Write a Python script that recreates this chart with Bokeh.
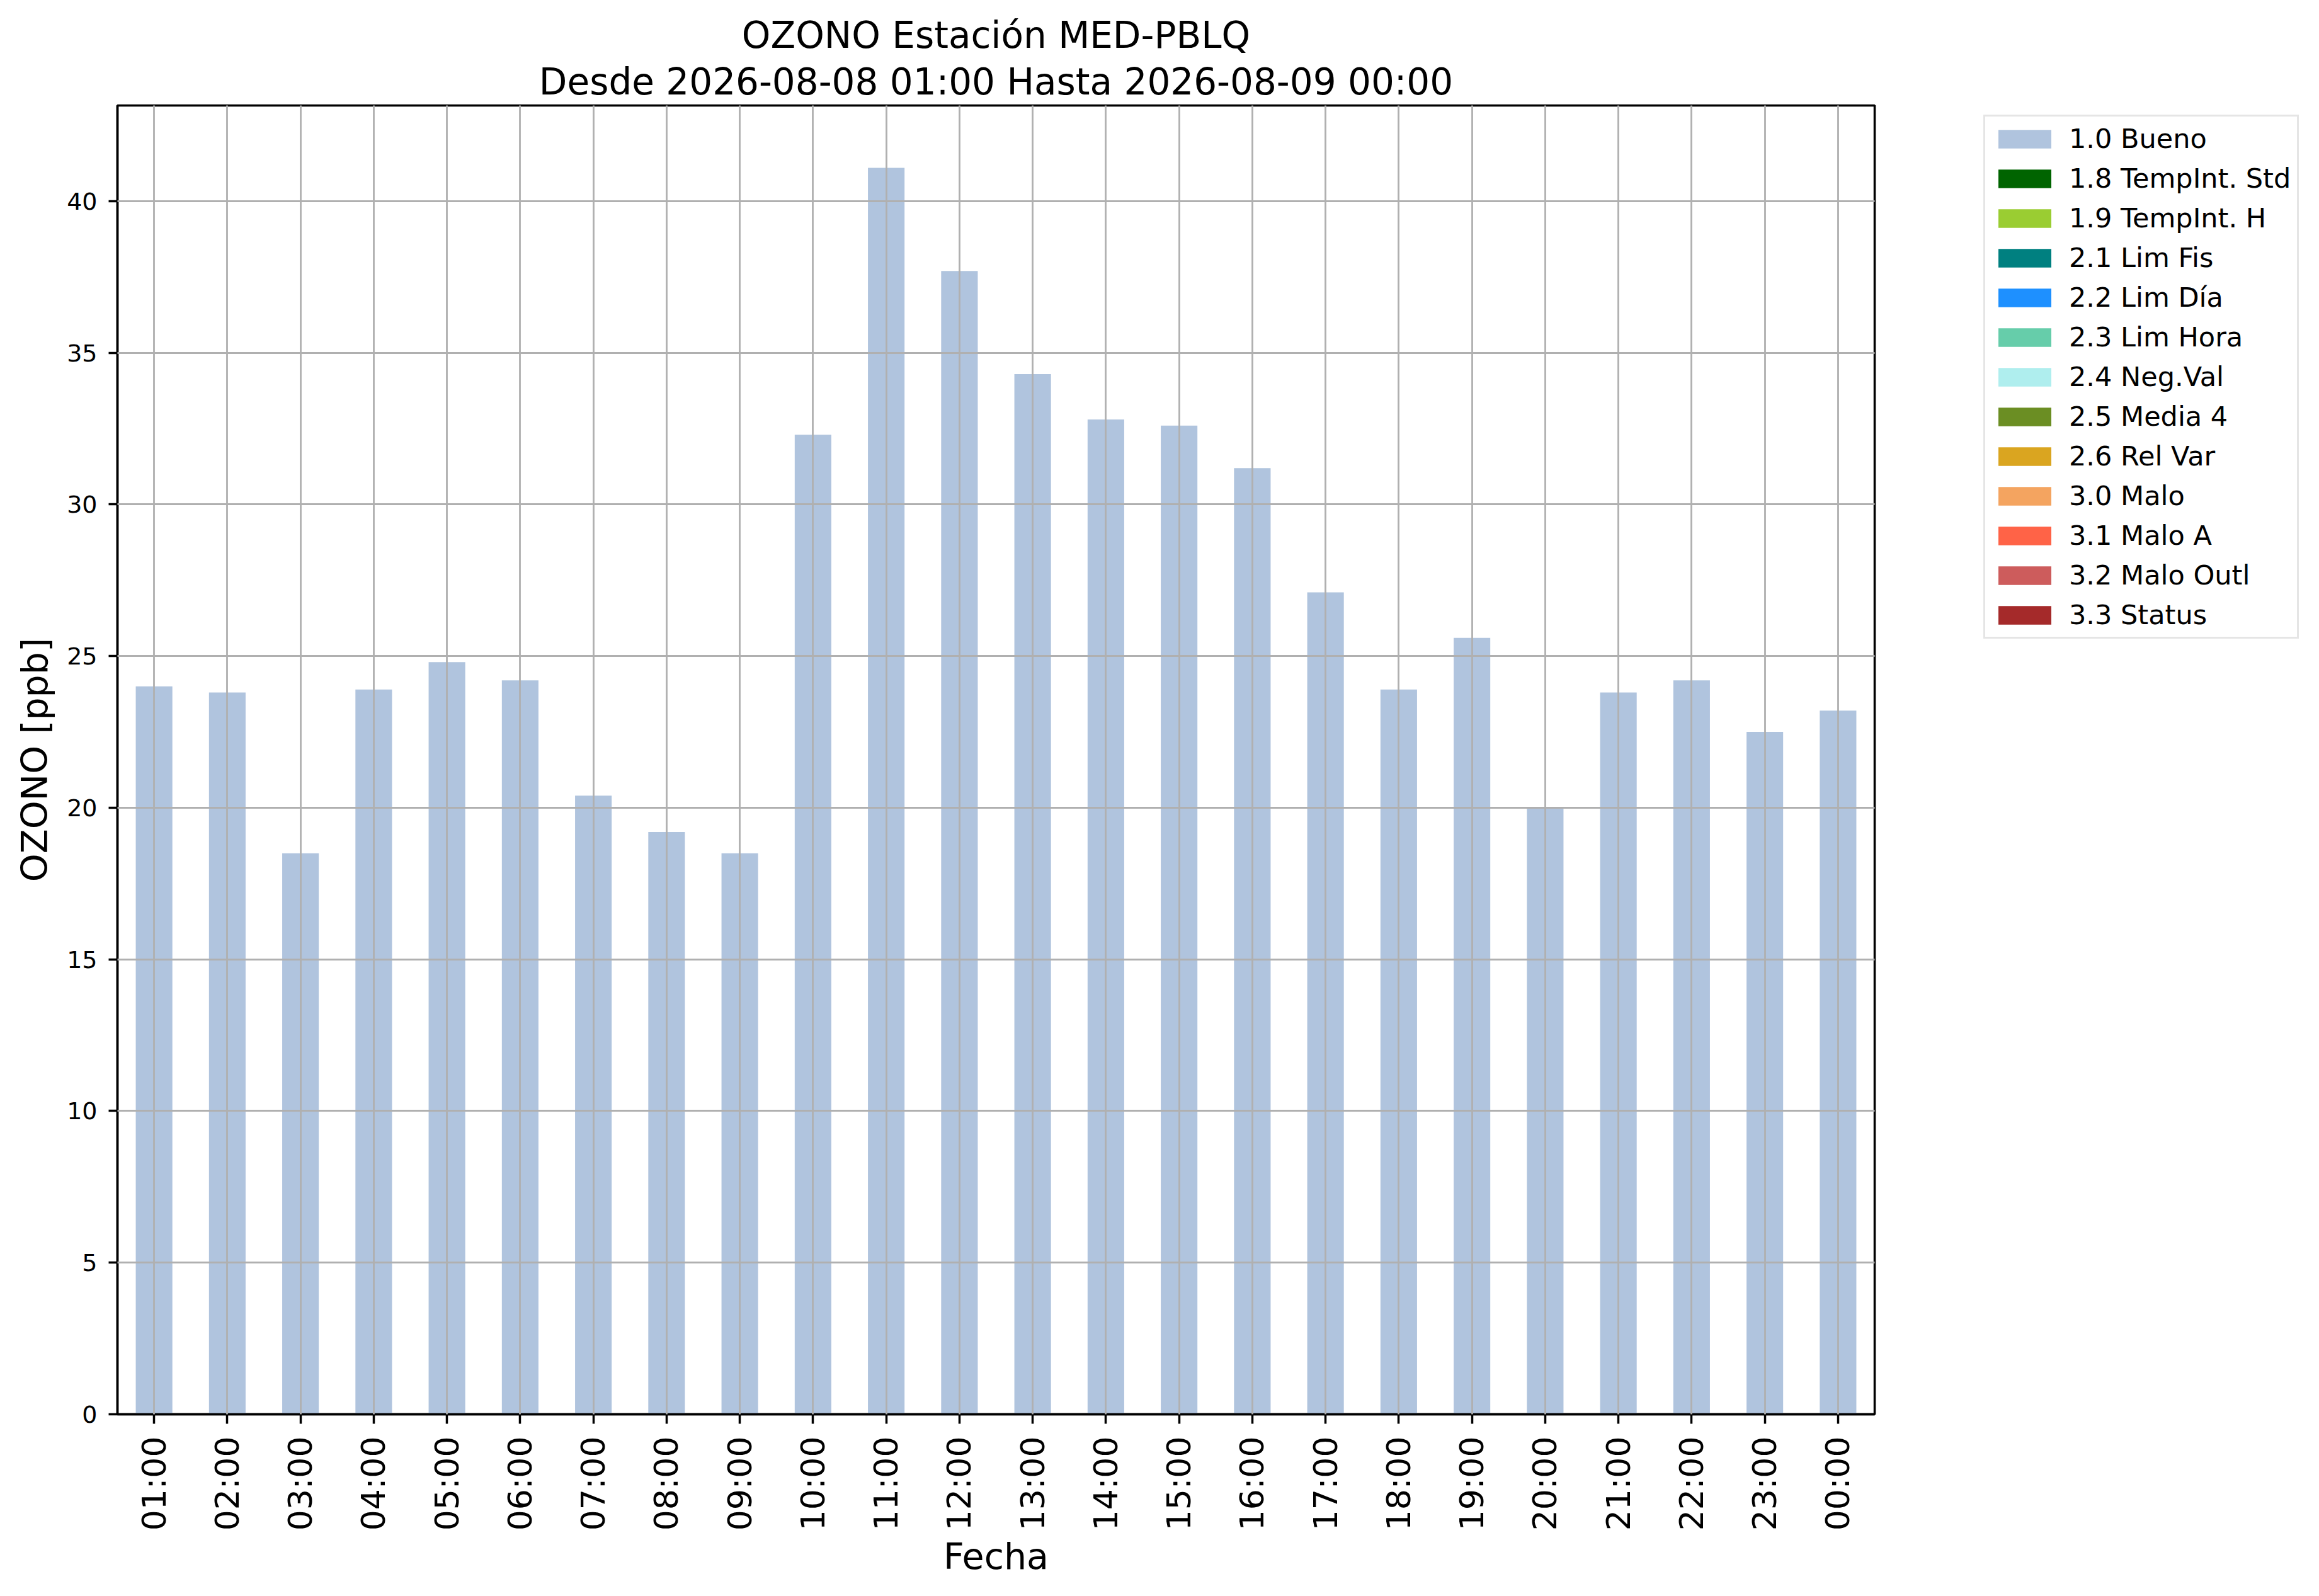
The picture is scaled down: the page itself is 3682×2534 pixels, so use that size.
import math
from bokeh.plotting import figure
from bokeh.models import (FactorRange, Range1d, ColumnDataSource, Legend, LegendItem,
                          FixedTicker, Title)
from bokeh.embed import file_html
from bokeh.resources import INLINE

# ---- data ----
hours = ["01:00", "02:00", "03:00", "04:00", "05:00", "06:00", "07:00", "08:00",
         "09:00", "10:00", "11:00", "12:00", "13:00", "14:00", "15:00", "16:00",
         "17:00", "18:00", "19:00", "20:00", "21:00", "22:00", "23:00", "00:00"]
ozone = [24.0, 23.8, 18.5, 23.9, 24.8, 24.2, 20.4, 19.2, 18.5, 32.3, 41.1, 37.7,
         34.3, 32.8, 32.6, 31.2, 27.1, 23.9, 25.6, 20.0, 23.8, 24.2, 22.5, 23.2]
flags = ["1.0"] * 24

flag_codes = ["1.0", "1.8", "1.9", "2.1", "2.2", "2.3", "2.4", "2.5", "2.6",
              "3.0", "3.1", "3.2", "3.3"]
flag_labels = ["1.0 Bueno", "1.8 TempInt. Std", "1.9 TempInt. H", "2.1 Lim Fis",
               "2.2 Lim Día", "2.3 Lim Hora", "2.4 Neg.Val", "2.5 Media 4",
               "2.6 Rel Var", "3.0 Malo", "3.1 Malo A", "3.2 Malo Outl", "3.3 Status"]
flag_colors = ["#b0c4de", "#006400", "#9acd32", "#008080", "#1e90ff", "#66cdaa",
               "#afeeee", "#6b8e23", "#daa520", "#f4a460", "#ff6347", "#cd5c5c",
               "#a52a2a"]
y_ticks = [0, 5, 10, 15, 20, 25, 30, 35, 40]
title_line1 = "OZONO Estación MED-PBLQ"
title_line2 = "Desde 2026-08-08 01:00 Hasta 2026-08-09 00:00"

FONT = "DejaVu Sans"

# stacked table: one column per flag (value where the hour has that flag, else 0)
table = {"hour": hours}
for code in flag_codes:
    table[code] = [v if f == code else 0.0 for v, f in zip(ozone, flags)]
source = ColumnDataSource(table)

p = figure(x_range=FactorRange(factors=hours, range_padding=0),
           y_range=Range1d(0, max(ozone) * 1.05),
           frame_width=2790, frame_height=2078,
           output_backend="svg", toolbar_location=None,
           min_border_left=186, min_border_right=0, min_border_top=167,
           min_border_bottom=273)

renderers = p.vbar_stack(flag_codes, x="hour", width=0.5, source=source,
                         fill_color=flag_colors, line_color=None)
items = [LegendItem(label=lab, renderers=[r]) for lab, r in zip(flag_labels, renderers)]

legend = Legend(items=items, location=(173, 1231), margin=0, padding=10,
                spacing=13, glyph_width=105, glyph_height=37, label_height=49,
                label_standoff=18, label_text_font=FONT, label_text_font_size="43px",
                label_text_color="black",
                border_line_color="#cccccc", border_line_width=3,
                background_fill_color="white", background_fill_alpha=0.8)
p.add_layout(legend, "right")

# title: the extra Title added "above" sits next to the frame, p.title above it
p.title.text = title_line1
p.title.align = "center"
p.title.text_font = FONT
p.title.text_font_size = "58px"
p.title.text_font_style = "normal"
p.title.text_color = "black"
p.title.standoff = 0
t2 = Title(text=title_line2, align="center", text_font=FONT, text_font_size="58px",
           text_font_style="normal", text_color="black", standoff=8)
p.add_layout(t2, "above")

p.outline_line_color = "black"
p.outline_line_width = 3.5

for ax in (p.xaxis[0], p.yaxis[0]):
    ax.axis_line_color = "black"
    ax.axis_line_width = 3.5
    ax.major_tick_line_color = "black"
    ax.major_tick_line_width = 3.5
    ax.major_tick_in = 0
    ax.minor_tick_line_color = None
    ax.axis_label_text_font = FONT
    ax.axis_label_text_font_style = "normal"
    ax.axis_label_text_font_size = "57px"
    ax.axis_label_text_color = "black"
    ax.major_label_text_font = FONT
    ax.major_label_text_color = "black"

xax = p.xaxis[0]
xax.axis_label = "Fecha"
xax.major_tick_out = 15
xax.major_label_orientation = math.pi / 2
xax.major_label_text_font_size = "52px"
xax.major_label_standoff = 20
xax.axis_label_standoff = 5

yax = p.yaxis[0]
yax.axis_label = "OZONO [ppb]"
yax.ticker = FixedTicker(ticks=y_ticks)
yax.major_tick_out = 14
yax.major_label_text_font_size = "38px"
yax.major_label_standoff = 18
yax.axis_label_standoff = 15

for g in (p.xgrid[0], p.ygrid[0]):
    g.grid_line_color = "#b0b0b0"
    g.grid_line_width = 2.8
    g.level = "overlay"
p.ygrid[0].ticker = FixedTicker(ticks=y_ticks)

open("out.html", "w").write(file_html(p, INLINE))
